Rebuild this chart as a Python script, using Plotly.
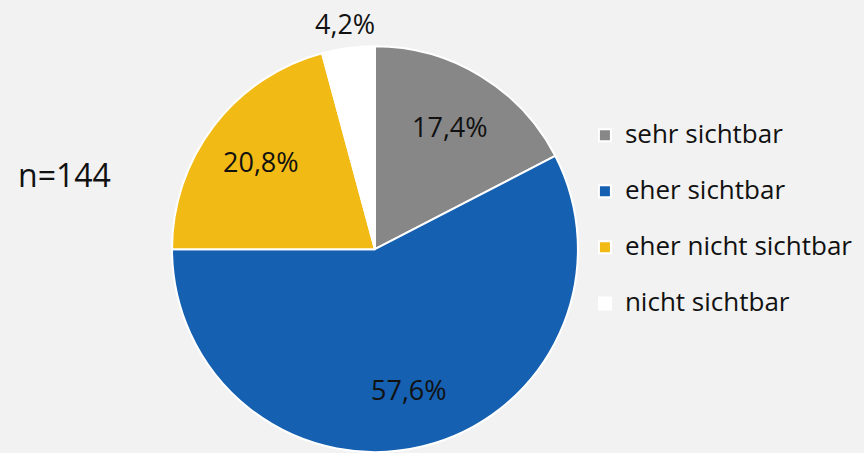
import math
import plotly.graph_objects as go

labels = ["sehr sichtbar", "eher sichtbar", "eher nicht sichtbar", "nicht sichtbar"]
values = [17.4, 57.6, 20.8, 4.2]
colors = ["#878787", "#1560B0", "#F2BA14", "#FFFFFF"]
n_label = "n=144"

FONT = "'Open Sans', sans-serif"
W, H = 864, 453
DOM_X = [0.199, 0.669]
DOM_Y = [0.002, 0.898]

fig = go.Figure(go.Pie(
    labels=["<span style='font-size:26px'>" + l + "</span><br> " for l in labels],
    values=values,
    sort=False,
    direction="clockwise",
    rotation=0,
    marker=dict(colors=colors, line=dict(color="white", width=2)),
    textinfo="none",
    domain=dict(x=DOM_X, y=DOM_Y),
    hoverinfo="percent",
))

# percentage labels placed at each slice's mid-angle (derived from the values)
cx = W * (DOM_X[0] + DOM_X[1]) / 2
box_h = H * (DOM_Y[1] - DOM_Y[0])
box_w = W * (DOM_X[1] - DOM_X[0])
r = min(box_h, box_w) / 2
cy = H * (1 - DOM_Y[0]) - box_h / 2
total = sum(values)
cum = 0.0
for v in values:
    mid = (cum + v / 2) / total * 2 * math.pi
    cum += v
    frac = 1.12 if v / total < 0.05 else 0.71
    px = cx + frac * r * math.sin(mid)
    py = cy - frac * r * math.cos(mid)
    fig.add_annotation(
        text=f"{v / total * 100:.1f}%".replace(".", ","),
        x=px / W, y=1 - py / H, xref="paper", yref="paper",
        xanchor="center", yanchor="middle", showarrow=False,
        font=dict(family=FONT, size=27, color="#111111"),
    )

fig.add_annotation(text=n_label, x=0.075, y=0.615, xref="paper", yref="paper",
                   xanchor="center", yanchor="middle",
                   showarrow=False, font=dict(family=FONT, size=32, color="#111111"))

fig.update_layout(
    width=W, height=H,
    margin=dict(l=0, r=0, t=0, b=0),
    paper_bgcolor="#F2F2F2",
    plot_bgcolor="#F2F2F2",
    showlegend=True,
    legend=dict(x=0.677, y=0.745, xanchor="left", yanchor="top",
                valign="top", itemwidth=30,
                font=dict(family=FONT, size=20.4, color="#111111"),
                bgcolor="rgba(0,0,0,0)"),
)

fig.write_html("out.html", config={"displayModeBar": False},
               post_script="document.body.style.margin='0';document.body.style.overflow='hidden';")
